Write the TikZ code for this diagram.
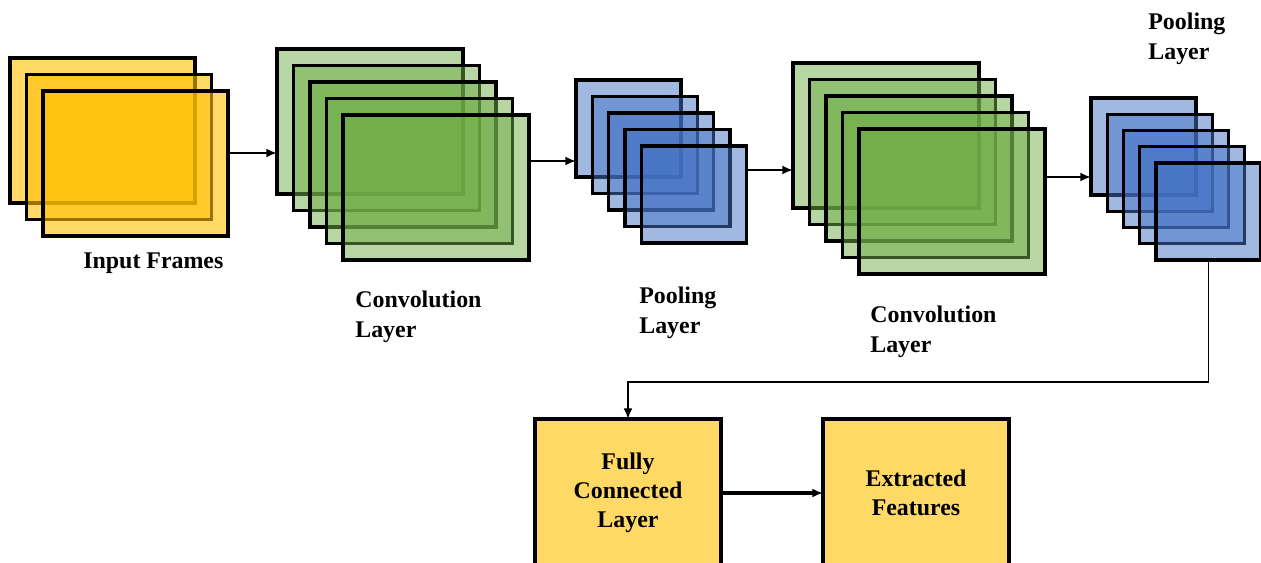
\documentclass[tikz,border=0pt]{standalone}
\usepackage{fontspec}
\setmainfont{Liberation Serif}
\usetikzlibrary{arrows.meta}

\definecolor{frameyellow}{HTML}{FFC000}
\definecolor{convgreen}{HTML}{70AD47}
\definecolor{poolblue}{HTML}{4472C4}
\definecolor{boxyellow}{HTML}{FFD966}

\begin{document}
\begin{tikzpicture}[x=0.02cm, y=-0.02cm]

    % Define some common styles
    \tikzset{
        sheet/.style={rectangle, draw=black, draw opacity=1, line width=1.9pt, inner sep=0pt, outer sep=0pt, anchor=north west},
        inframe/.style={sheet, fill=frameyellow, fill opacity=0.6, minimum width=3.7cm, minimum height=2.9cm},
        convframe/.style={sheet, fill=convgreen, fill opacity=0.5, minimum width=3.72cm, minimum height=2.9cm},
        poolframe/.style={sheet, fill=poolblue, fill opacity=0.5, minimum width=2.1cm, minimum height=1.94cm},
        fcbox/.style={sheet, fill=boxyellow, align=center, minimum width=3.72cm, minimum height=2.96cm, font=\labelfont},
        label/.style={inner sep=0pt, align=left, anchor=north west, font=\labelfont},
        arr/.style={-{Latex[length=6pt,width=5pt]}, line width=1.2pt}
    }
    \def\labelfont{\fontsize{13.6}{16.6}\selectfont\bfseries}

    % Fix the page size
    \useasboundingbox (0,0) rectangle (1261,562);

    % Input frames
    \foreach \i in {1,2,3}
        \node[inframe] (input\i) at (10+16.5*\i-16.5, 58+16.5*\i-16.5) {};

    % First convolution stack
    \foreach \i in {1,...,5}
        \node[convframe] (conva\i) at (277+16.5*\i-16.5, 49+16.5*\i-16.5) {};

    % First pooling stack
    \foreach \i in {1,...,5}
        \node[poolframe] (poola\i) at (576+16.3*\i-16.3, 80+16.5*\i-16.5) {};

    % Second convolution stack
    \foreach \i in {1,...,5}
        \node[convframe] (convb\i) at (793+16.5*\i-16.5, 63+16.5*\i-16.5) {};

    % Second pooling stack
    \foreach \i in {1,...,5}
        \node[poolframe] (poolb\i) at (1091+16.25*\i-16.25, 98+16.25*\i-16.25) {};

    % Labels
    \node[label, anchor=base west] (inlabel) at (83,268) {Input Frames};
    \node[label] (convalabel) at (355,291) {Convolution\\Layer};
    \node[label] (poolalabel) at (639,287) {Pooling\\Layer};
    \node[label] (convblabel) at (870,306) {Convolution\\Layer};
    \node[label] (poolblabel) at (1148,13) {Pooling\\Layer};

    % Bottom boxes
    \node[fcbox] (fc) at (535,419) {Fully\\Connected\\Layer};
    \node[fcbox] (feat) at (823,419) {Extracted\\Features};

    % Connectors
    \draw[arr] (input3.east |- 0,153) -- (conva1.west |- 0,153);
    \draw[arr] (conva5.east |- 0,161) -- (poola1.west |- 0,161);
    \draw[arr] (poola5.east |- 0,170) -- (convb1.west |- 0,170);
    \draw[arr] (convb5.east |- 0,177) -- (poolb1.west |- 0,177);
    \draw[arr, line width=1.1pt] (poolb5.south) -- ++(0,122) -| (fc.north);
    \draw[arr, line width=2pt] (fc) -- (feat);

\end{tikzpicture}
\end{document}
